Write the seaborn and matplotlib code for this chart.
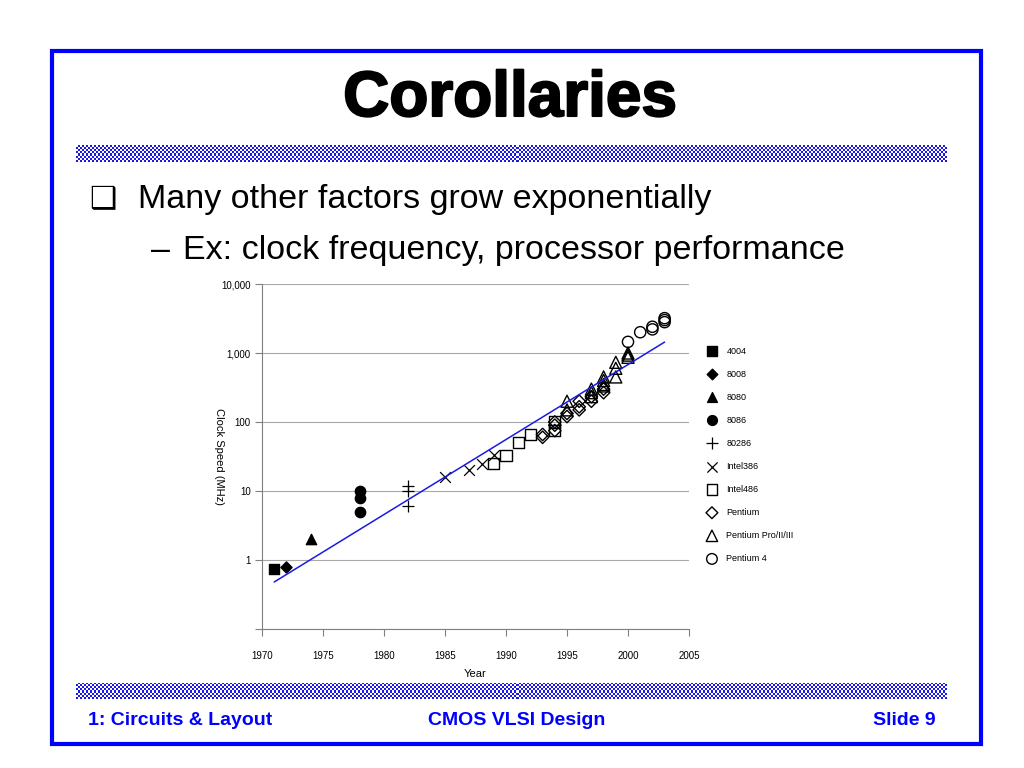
import numpy as np
import pandas as pd
import matplotlib
matplotlib.use("Agg")
import matplotlib.pyplot as plt
import matplotlib.patheffects as pe
import seaborn as sns
from matplotlib.patches import Rectangle

# Clock speed data (MHz) per processor family
chips = ["4004", "8008", "8080", "8086", "80286", "Intel386", "Intel486",
         "Pentium", "Pentium Pro/II/III", "Pentium 4"]
years_4004 = [1971]
mhz_4004 = [0.74]
years_8008 = [1972]
mhz_8008 = [0.8]
years_8080 = [1974]
mhz_8080 = [2]
years_8086 = [1978, 1978, 1978]
mhz_8086 = [5, 8, 10]
years_80286 = [1982, 1982, 1982]
mhz_80286 = [6, 10, 12]
years_386 = [1985, 1987, 1988, 1989]
mhz_386 = [16, 20, 25, 33]
years_486 = [1989, 1990, 1991, 1992, 1994, 1994]
mhz_486 = [25, 33, 50, 66, 75, 100]
years_pentium = [1993, 1993, 1994, 1994, 1994, 1995, 1995, 1996, 1996, 1996,
                 1997, 1997, 1998, 1998]
mhz_pentium = [60, 66, 75, 90, 100, 120, 133, 150, 166, 200,
               200, 233, 266, 300]
years_p6 = [1995, 1995, 1997, 1997, 1997, 1998, 1998, 1998, 1998,
            1999, 1999, 1999, 2000, 2000, 2000]
mhz_p6 = [150, 200, 233, 266, 300, 333, 350, 400, 450,
          450, 600, 733, 866, 933, 1000]
years_p4 = [2000, 2001, 2002, 2002, 2003, 2003, 2003]
mhz_p4 = [1450, 2000, 2200, 2400, 2800, 3000, 3200]

# trend line end points as drawn on the slide
trend_years = [1971, 2003]
trend_mhz = [0.48, 1440]

x_ticks = [1970, 1975, 1980, 1985, 1990, 1995, 2000, 2005]
y_ticks = [0.1, 1, 10, 100, 1000, 10000]
y_labels = ["", "1", "10", "100", "1,000", "10,000"]

all_years = [years_4004, years_8008, years_8080, years_8086, years_80286,
             years_386, years_486, years_pentium, years_p6, years_p4]
all_mhz = [mhz_4004, mhz_8008, mhz_8080, mhz_8086, mhz_80286,
           mhz_386, mhz_486, mhz_pentium, mhz_p6, mhz_p4]

df = pd.concat([pd.DataFrame({"Year": y, "MHz": m, "Chip": c})
                for c, y, m in zip(chips, all_years, all_mhz)], ignore_index=True)

# marker and size per chip
styles = {
    "4004": ("s", 55),
    "8008": ("D", 32),
    "8080": ("^", 55),
    "8086": ("o", 55),
    "80286": ("+", 75),
    "Intel386": ("x", 60),
    "Intel486": ("s", 65),
    "Pentium": ("D", 40),
    "Pentium Pro/II/III": ("^", 75),
    "Pentium 4": ("o", 65),
}
open_chips = ["Intel486", "Pentium", "Pentium Pro/II/III", "Pentium 4"]

sns.set_style("white")
plt.rcParams["font.family"] = ["Liberation Sans", "DejaVu Sans"]
plt.rcParams["text.color"] = "black"
plt.rcParams["axes.labelcolor"] = "black"
plt.rcParams["xtick.labelcolor"] = "black"
plt.rcParams["ytick.labelcolor"] = "black"

W, H = 1024, 768
fig = plt.figure(figsize=(W / 100, H / 100), dpi=100)


def fx(px):
    return px / W


def fy(py):
    return 1 - py / H


# slide frame
fig.patches.append(Rectangle((fx(52), fy(744)), fx(981) - fx(52), fy(51) - fy(744),
                             transform=fig.transFigure, fill=False,
                             edgecolor="#0000ff", linewidth=3))

# checkered bands
def band(top, bottom):
    bax = fig.add_axes([fx(76), fy(bottom), fx(947) - fx(76), fy(top) - fy(bottom)])
    ny, nx = 8, 435
    board = (np.indices((ny, nx)).sum(axis=0) % 2)
    bax.imshow(board, cmap=matplotlib.colors.ListedColormap(["#ffffff", "#1a1ae6"]),
               aspect="auto", interpolation="nearest")
    bax.axis("off")


band(145, 162)
band(683, 699)

# title and bullets
fig.text(fx(510), fy(116), "Corollaries", ha="center", va="baseline",
         fontsize=46, fontweight="bold",
         path_effects=[pe.withStroke(linewidth=1.5, foreground="black")])
fig.text(fx(89), fy(208), "\u2751", ha="left", va="baseline", fontsize=22,
         family=["DejaVu Sans"])
fig.text(fx(138), fy(208), "Many other factors grow exponentially", ha="left",
         va="baseline", fontsize=24.5)
fig.text(fx(151), fy(259), "\u2013", ha="left", va="baseline", fontsize=24.5)
fig.text(fx(183), fy(259), "Ex: clock frequency, processor performance", ha="left",
         va="baseline", fontsize=24.5)

# footer
fig.text(fx(88), fy(725), "1: Circuits & Layout", ha="left", va="baseline",
         fontsize=14, fontweight="bold", color="#0000ff")
fig.text(fx(517), fy(725), "CMOS VLSI Design", ha="center", va="baseline",
         fontsize=14, fontweight="bold", color="#0000ff")
fig.text(fx(936), fy(725), "Slide 9", ha="right", va="baseline",
         fontsize=14, fontweight="bold", color="#0000ff")

# chart
ax = fig.add_axes([fx(262), fy(629), fx(689) - fx(262), fy(284) - fy(629)])
for chip in chips:
    sub = df[df["Chip"] == chip]
    marker, size = styles[chip]
    kw = dict(marker=marker, s=size, label=chip, ax=ax, linewidth=1)
    if chip in open_chips:
        kw.update(facecolors="none", edgecolors="black", color="black")
    elif marker in ["+", "x"]:
        kw.update(color="black", linewidth=0.9)
    else:
        kw.update(color="black", edgecolor="black")
    sns.scatterplot(x=sub["Year"], y=sub["MHz"], **kw)

sns.lineplot(x=trend_years, y=trend_mhz, color="#1a1ae6", linewidth=1.1, ax=ax)

ax.set_yscale("log")
ax.set_ylim(0.1, 10000)
ax.set_xlim(1970, 2005)
ax.set_yticks(y_ticks)
ax.set_yticklabels(y_labels)
ax.yaxis.set_minor_locator(matplotlib.ticker.NullLocator())
ax.set_xticks(x_ticks)
ax.set_xticklabels([str(t) for t in x_ticks])
ax.tick_params(axis="both", labelsize=7, length=5, width=0.8, color="#808080",
               direction="out", left=True, bottom=True, pad=3)
ax.tick_params(axis="x", pad=11)
ax.grid(axis="y", color="#a8a8a8", linewidth=0.8)
ax.grid(axis="x", visible=False)
for side in ["top", "right"]:
    ax.spines[side].set_visible(False)
for side in ["left", "bottom"]:
    ax.spines[side].set_color("#808080")
    ax.spines[side].set_linewidth(0.8)
ax.set_xlabel("Year", fontsize=8, labelpad=5.5)
ax.set_ylabel("Clock Speed (MHz)", fontsize=8, rotation=270, labelpad=20)
ax.yaxis.set_label_coords(-0.112, 0.5)

handles, labels = ax.get_legend_handles_labels()
leg = ax.legend(handles[:len(chips)], labels[:len(chips)], frameon=False,
                fontsize=6.5, loc="upper left",
                bbox_to_anchor=(fx(702), fy(342)), bbox_transform=fig.transFigure,
                labelspacing=1.56, handletextpad=1.0, handlelength=1.2,
                markerscale=0.95, borderpad=0)

fig.savefig("out.png", dpi=100)
